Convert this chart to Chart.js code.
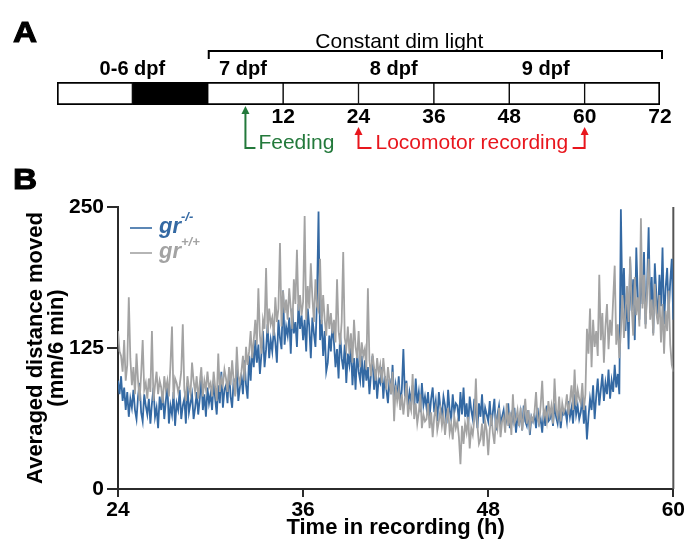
<!DOCTYPE html>
<html>
<head>
<meta charset="utf-8">
<script src="https://cdn.jsdelivr.net/npm/chart.js@4"></script>
<style>
  html, body { margin: 0; padding: 0; background: #fff; }
  #wrap { position: relative; width: 686px; height: 549px; }
  #wrap canvas { position: absolute; left: 0; top: 0; }
</style>
</head>
<body>
<div id="wrap">
  <canvas id="panelB" width="686" height="549"></canvas>
  <canvas id="panelA" width="686" height="549"></canvas>
</div>
<script>
// ---- Panel A: protocol timeline (hours relative to start of 7 dpf)
const timelineEdges = [-24, -12, 0, 12, 24, 36, 48, 60, 72];
const darkSegment = 1;
const timelineTicks = [12, 24, 36, 48, 60, 72];
const dayLabels = ["0-6 dpf", "7 dpf", "8 dpf", "9 dpf"];
const dayLabelHour = [-12, 5.6, 29.6, 53.8];
const constantLight = [0, 72];
const feedingHour = 6;
const recordingHours = [24, 60];

// ---- Panel B: averaged distance moved (mm / 6 min), one value per 6-min bin, 24 h -> 60 h
const grMutant = [
  96, 84, 100, 78, 90, 70, 86, 64, 80, 72,
  88, 70, 62, 82, 94, 68, 60, 84, 74, 66,
  80, 58, 76, 90, 64, 72, 54, 82, 70, 86,
  62, 78, 92, 58, 74, 66, 86, 56, 76, 70,
  88, 62, 74, 80, 58, 94, 68, 76, 84, 62,
  72, 86, 66, 80, 100, 70, 84, 64, 90, 76,
  84, 70, 96, 80, 66, 92, 76, 104, 72, 88,
  92, 76, 106, 82, 72, 98, 84, 112, 78, 90,
  100, 84, 114, 92, 80, 118, 96, 126, 108, 132,
  112, 128, 102, 120, 140, 108, 124, 146, 116, 132,
  122, 142, 130, 112, 150, 134, 124, 176, 128, 144,
  136, 152, 120, 160, 138, 148, 126, 164, 142, 154,
  132, 150, 122, 160, 144, 116, 152, 138, 126, 168,
  246, 132, 150, 118, 140, 104, 112, 136, 122, 146,
  130, 108, 124, 98, 138, 116, 106, 128, 94, 120,
  110, 126, 92, 116, 88, 122, 104, 96, 118, 90,
  114, 96, 108, 84, 102, 118, 88, 106, 80, 98,
  94, 108, 80, 100, 88, 76, 98, 84, 110, 78,
  92, 80, 100, 74, 88, 124, 82, 96, 72, 86,
  78, 92, 70, 98, 76, 86, 68, 94, 74, 82,
  72, 86, 64, 80, 90, 68, 78, 60, 86, 72,
  66, 82, 74, 58, 88, 70, 62, 84, 68, 76,
  74, 60, 86, 66, 90, 64, 76, 56, 82, 70,
  62, 80, 68, 54, 76, 64, 84, 58, 72, 66,
  60, 78, 56, 68, 80, 52, 66, 74, 58, 64,
  70, 56, 62, 76, 54, 66, 60, 72, 50, 64,
  58, 68, 52, 74, 60, 56, 70, 48, 64, 60,
  66, 54, 72, 58, 62, 50, 68, 56, 74, 60,
  62, 70, 56, 76, 64, 58, 72, 54, 68, 66,
  70, 60, 78, 64, 72, 58, 84, 66, 74, 62,
  68, 82, 58, 74, 44, 64, 80, 70, 92, 62,
  82, 98, 74, 88, 102, 78, 94, 84, 106, 80,
  96, 86, 110, 90, 102, 84, 248, 160, 196, 140,
  178, 124, 204, 158, 186, 132, 214, 170, 150, 192,
  164, 210, 146, 180, 232, 156, 188, 138, 200, 172,
  150, 190, 162, 214, 146, 178, 196, 156, 184, 204,
  150
];
const grWildtype = [
  140, 122, 118, 104, 132, 96, 110, 170, 116, 92,
  108, 84, 120, 96, 78, 102, 132, 88, 94, 80,
  98, 86, 140, 78, 92, 104, 84, 96, 90, 76,
  100, 88, 96, 82, 110, 144, 80, 98, 94, 86,
  92, 104, 146, 88, 78, 100, 90, 84, 112, 96,
  86, 100, 80, 94, 108, 82, 96, 88, 104, 90,
  94, 82, 104, 90, 78, 120, 86, 98, 92, 106,
  98, 86, 108, 92, 114, 96, 82, 126, 100, 94,
  104, 118, 96, 126, 110, 122, 140, 116, 132, 150,
  128, 178, 136, 120, 150, 142, 196, 138, 160, 146,
  152, 136, 170, 148, 160, 218, 144, 176, 156, 168,
  150, 178, 160, 142, 186, 164, 212, 158, 172, 154,
  166, 242, 150, 180, 160, 200, 170, 148, 186, 162,
  158, 204, 146, 172, 150, 136, 164, 142, 156, 138,
  150, 130, 186, 140, 128, 148, 210, 134, 124, 144,
  120, 138, 112, 150, 126, 116, 140, 108, 130, 118,
  124, 106, 178, 114, 100, 120, 108, 96, 116, 102,
  110, 94, 116, 100, 88, 108, 96, 84, 104, 60,
  92, 78, 88, 70, 84, 66, 80, 94, 64, 76,
  70, 102, 62, 76, 58, 68, 84, 54, 66, 60,
  62, 76, 54, 68, 46, 64, 72, 52, 60, 70,
  56, 66, 48, 62, 72, 50, 58, 44, 64, 54,
  60, 46, 22, 56, 40, 58, 50, 64, 36, 54,
  48, 62, 98, 56, 40, 44, 58, 38, 60, 52,
  30, 52, 66, 50, 40, 62, 54, 72, 46, 60,
  64, 50, 76, 56, 68, 48, 84, 58, 62, 70,
  56, 72, 52, 66, 80, 58, 70, 54, 64, 60,
  68, 86, 62, 58, 74, 96, 64, 70, 60, 78,
  66, 74, 58, 98, 70, 64, 82, 60, 76, 68,
  72, 84, 66, 78, 92, 70, 106, 74, 88, 80,
  76, 94, 70, 84, 142, 120, 160, 108, 150, 126,
  140, 118, 190, 132, 156, 112, 144, 164, 124, 150,
  136, 168, 198, 128, 146, 116, 140, 172, 134, 158,
  180, 148, 206, 162, 136, 188, 154, 170, 144, 240,
  160, 190, 142, 176, 204, 150, 168, 136, 182, 156,
  146, 172, 130, 164, 120, 158, 140, 176, 128, 110,
  104
];
const genotypes = ["gr", "gr"];
const alleles = ["-/-", "+/+"];
const xTicks = [24, 36, 48, 60];
const yTicks = [0, 125, 250];

// 6-minute bins
const timeH = grMutant.map((_, i) => 24 + i / 10);

const BLUE = "#3469a3";
const GRAY = "#a3a3a3";
const AXIS = "#2b2b2b";
const FONT = '"Liberation Sans", Arial, Helvetica, sans-serif';
const GREEN = "#23793b";
const RED = "#e8161d";

Chart.defaults.font.family = FONT;
Chart.defaults.color = "#000";

function panelLetter(ctx, s, x, y) {
    ctx.save();
    ctx.translate(x, y);
    ctx.scale(1.15, 1);
    ctx.font = "bold 29px " + FONT;
    ctx.fillStyle = "#000";
    ctx.strokeStyle = "#000";
    ctx.lineWidth = 1;
    ctx.textAlign = "left";
    ctx.textBaseline = "alphabetic";
    ctx.fillText(s, 0, 0);
    ctx.strokeText(s, 0, 0);
    ctx.restore();
}

function text(ctx, s, x, y, font, color, align) {
    ctx.font = font;
    ctx.fillStyle = color;
    ctx.textAlign = align || "left";
    ctx.textBaseline = "alphabetic";
    ctx.fillText(s, x, y);
}

// L-shaped arrow pointing up at x, foot going to xFoot
function upArrow(ctx, x, yTip, yFoot, xFoot, color) {
    ctx.strokeStyle = color;
    ctx.fillStyle = color;
    ctx.lineWidth = 2;
    ctx.beginPath();
    ctx.moveTo(xFoot, yFoot);
    ctx.lineTo(x, yFoot);
    ctx.lineTo(x, yTip + 6);
    ctx.stroke();
    ctx.beginPath();
    ctx.moveTo(x, yTip);
    ctx.lineTo(x - 4, yTip + 8);
    ctx.lineTo(x + 4, yTip + 8);
    ctx.closePath();
    ctx.fill();
}

// ---- Panel A chart
const timelineDecor = {
    id: "timelineDecor",
    afterDraw(chart) {
        const ctx = chart.ctx;
        const sx = (h) => chart.scales.x.getPixelForValue(h);
        ctx.save();
        panelLetter(ctx, "A", 13, 42);

        // bracket for constant dim light
        const bx0 = sx(constantLight[0]), bx1 = sx(constantLight[1]);
        ctx.strokeStyle = "#000";
        ctx.lineWidth = 2;
        ctx.beginPath();
        ctx.moveTo(bx0 + 1, 59);
        ctx.lineTo(bx0 + 1, 51);
        ctx.lineTo(bx1 + 2, 51);
        ctx.lineTo(bx1 + 2, 59);
        ctx.stroke();
        text(ctx, "Constant dim light", sx(30.5), 48, "21px " + FONT, "#000", "center");

        dayLabels.forEach((lab, i) => {
            text(ctx, lab, sx(dayLabelHour[i]), 75, "bold 20px " + FONT, "#000", "center");
        });

        // feeding
        const fx = sx(feedingHour);
        upArrow(ctx, fx, 106, 148, fx + 10, GREEN);
        text(ctx, "Feeding", fx + 13, 149, "21px " + FONT, GREEN, "left");

        // locomotor recording
        const r0 = sx(recordingHours[0]), r1 = sx(recordingHours[1]);
        upArrow(ctx, r0, 127, 148, r0 + 13, RED);
        upArrow(ctx, r1, 127, 148, r1 - 12, RED);
        text(ctx, "Locomotor recording", r0 + 17, 149, "21px " + FONT, RED, "left");
        ctx.restore();
    }
};

const segments = timelineEdges.slice(0, -1).map((start, i) => ({
    data: [[start, timelineEdges[i + 1]]],
    backgroundColor: i === darkSegment ? "#000" : "#fff",
    borderColor: "#000",
    borderWidth: {
        top: 2,
        bottom: 2,
        left: i === 0 ? 2 : 1,
        right: i === timelineEdges.length - 2 ? 2 : 1
    },
    borderSkipped: false,
    grouped: false,
    barPercentage: 1,
    categoryPercentage: 1
}));

new Chart(document.getElementById("panelA"), {
    type: "bar",
    data: { labels: [""], datasets: segments },
    options: {
        indexAxis: "y",
        responsive: false,
        animation: false,
        events: [],
        layout: { padding: { top: 82, left: 57, right: 26, bottom: 0 } },
        plugins: { legend: { display: false }, tooltip: { enabled: false } },
        scales: {
            x: {
                type: "linear",
                min: timelineEdges[0],
                max: timelineEdges[timelineEdges.length - 1],
                afterBuildTicks: (s) => { s.ticks = timelineTicks.map((v) => ({ value: v })); },
                afterFit: (s) => { s.height = 444; },
                grid: { display: false, drawTicks: false },
                border: { display: false },
                ticks: { padding: 0, maxRotation: 0, autoSkip: false, color: "#000",
                         font: { size: 21, weight: "bold" } }
            },
            y: { display: false }
        }
    },
    plugins: [timelineDecor]
});

// ---- Panel B chart
const activityDecor = {
    id: "activityDecor",
    beforeDatasetsDraw(chart) {
        const { ctx, chartArea } = chart;
        ctx.save();
        ctx.strokeStyle = "#555";
        ctx.lineWidth = 2;
        ctx.beginPath();
        ctx.moveTo(chartArea.right, chartArea.top);
        ctx.lineTo(chartArea.right, chartArea.bottom);
        ctx.stroke();
        ctx.restore();
    },
    afterDraw(chart) {
        const ctx = chart.ctx;
        ctx.save();
        panelLetter(ctx, "B", 13, 189);
        const colors = [BLUE, GRAY];
        const rowY = [233, 258];
        genotypes.forEach((g, i) => {
            const y = rowY[i];
            ctx.strokeStyle = colors[i];
            ctx.lineWidth = 1.6;
            ctx.beginPath();
            ctx.moveTo(130, y - 5);
            ctx.lineTo(152, y - 5);
            ctx.stroke();
            text(ctx, g, 159, y, "italic bold 22px " + FONT, colors[i], "left");
            const w = ctx.measureText(g).width;
            text(ctx, alleles[i], 159 + w, y - 12, "italic bold 13px " + FONT, colors[i], "left");
        });
        ctx.restore();
    }
};

const toPoints = (vals) => vals.map((v, i) => ({ x: timeH[i], y: v }));

new Chart(document.getElementById("panelB"), {
    type: "line",
    data: {
        datasets: [
            { label: "gr-/-", data: toPoints(grMutant), borderColor: BLUE, borderWidth: 1.8,
              pointRadius: 0, tension: 0, order: 2 },
            { label: "gr+/+", data: toPoints(grWildtype), borderColor: GRAY, borderWidth: 1.8,
              pointRadius: 0, tension: 0, order: 1 }
        ]
    },
    options: {
        responsive: false,
        animation: false,
        events: [],
        layout: { padding: { top: 207, right: 12, left: 0, bottom: 0 } },
        plugins: { legend: { display: false }, tooltip: { enabled: false } },
        scales: {
            x: {
                type: "linear",
                min: 24,
                max: 60,
                afterBuildTicks: (s) => { s.ticks = xTicks.map((v) => ({ value: v })); },
                afterFit: (s) => { s.height = 60; },
                grid: { drawOnChartArea: false, tickLength: 8, color: AXIS, lineWidth: 2 },
                border: { color: AXIS, width: 2 },
                ticks: { padding: 1, maxRotation: 0, autoSkip: false, color: "#000",
                         font: { size: 21, weight: "bold" } },
                title: { display: true, text: "Time in recording (h)", color: "#000",
                         font: { size: 22, weight: "bold" }, padding: { top: 0, bottom: 8 } }
            },
            y: {
                min: 0,
                max: 250,
                afterBuildTicks: (s) => { s.ticks = yTicks.map((v) => ({ value: v })); },
                afterFit: (s) => { s.width = 118; },
                grid: { drawOnChartArea: false, tickLength: 11, color: AXIS, lineWidth: 2 },
                border: { color: AXIS, width: 2 },
                ticks: { padding: 3, color: "#000", font: { size: 21, weight: "bold" } },
                title: { display: true, text: ["Averaged distance moved", "(mm/6 min)"], color: "#000",
                         font: { size: 22, weight: "bold", lineHeight: 0.955 },
                         padding: { top: 25.5, bottom: 0 } }
            }
        }
    },
    plugins: [activityDecor]
});
</script>
</body>
</html>
